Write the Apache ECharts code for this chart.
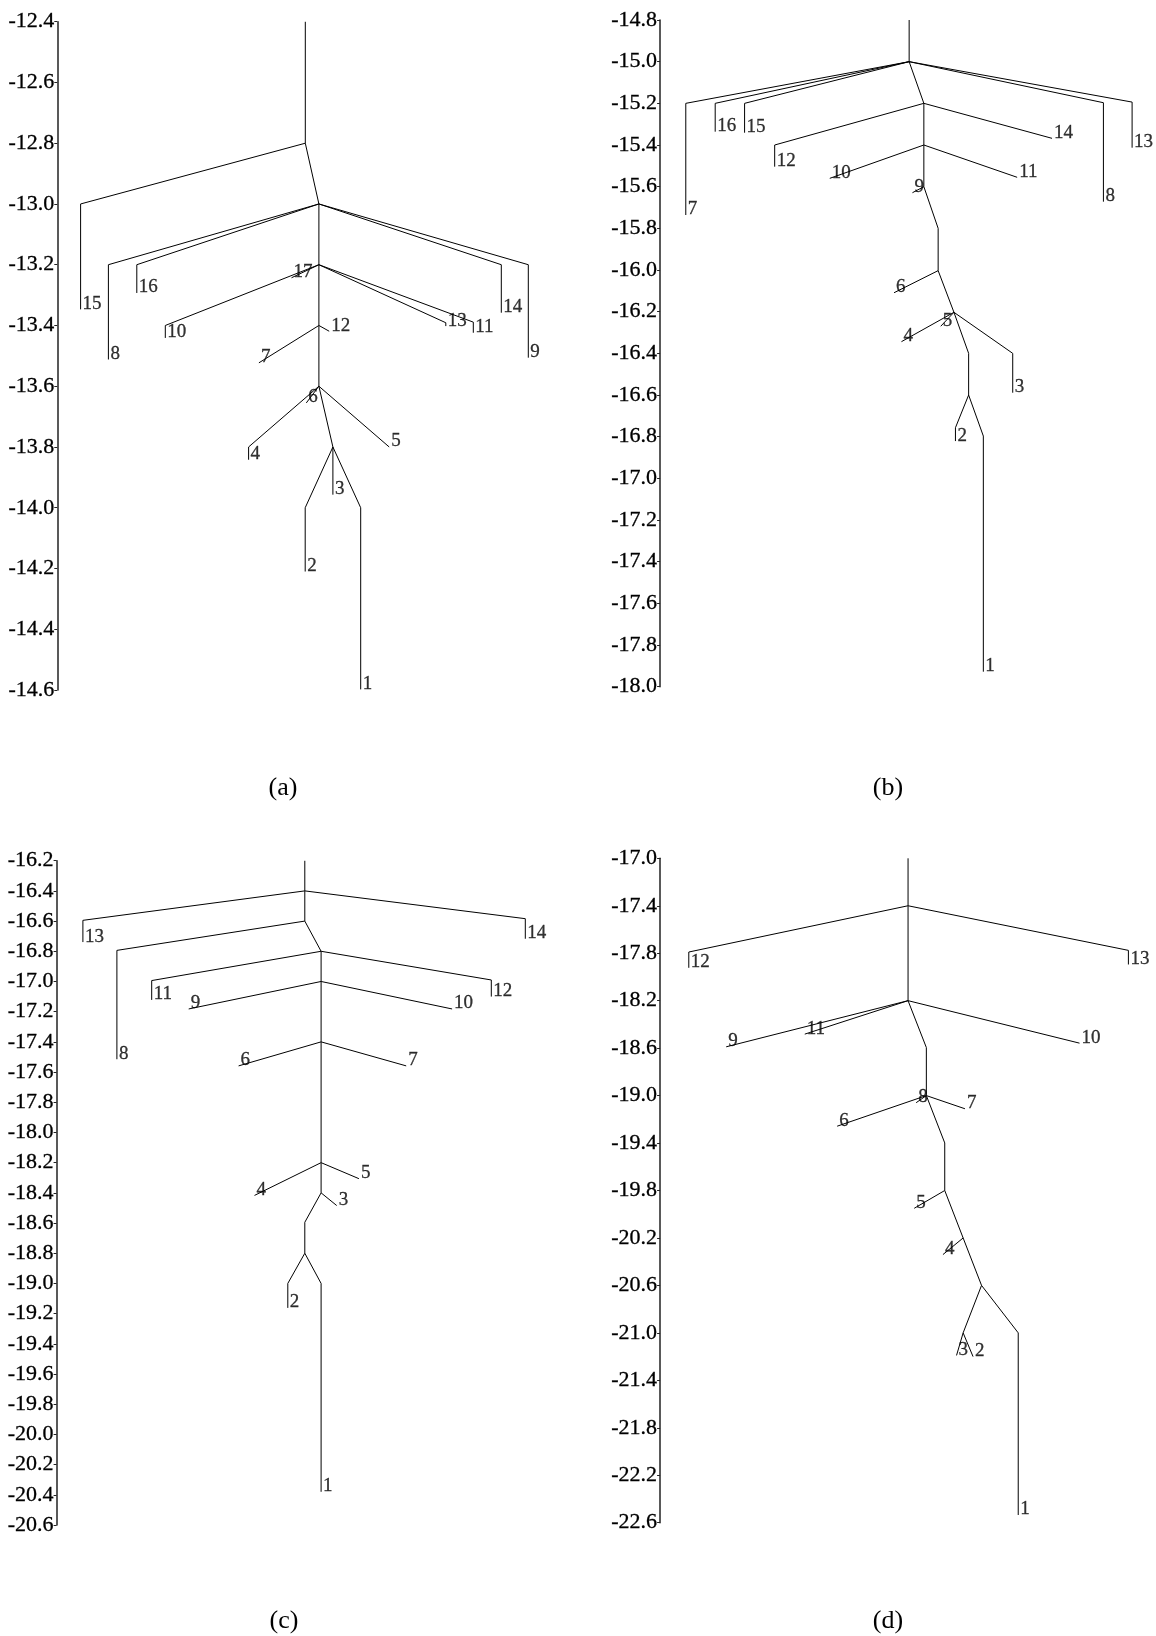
<!DOCTYPE html>
<html><head><meta charset="utf-8">
<script src="https://cdn.jsdelivr.net/npm/echarts@6/dist/echarts.min.js"></script>
<style>html,body{margin:0;padding:0;background:#fff}#chart{width:1156px;height:1636px}</style>
</head><body><div id="chart"></div>
<script>
// ---------- Panel (a) ----------
const aTicks  = [-12.4,-12.6,-12.8,-13.0,-13.2,-13.4,-13.6,-13.8,-14.0,-14.2,-14.4,-14.6];
const aLabel  = ['', '15','', '8','16','14','9','', '17','10','13','11','', '12','7','', '6','4','5','', '3','2','1'];
const aParent = [-1, 0, 0, 2, 2, 2, 2, 2, 7, 7, 7, 7, 7, 12, 12, 12, 15, 15, 15, 15, 19, 19, 19];
const aX      = [248, 23.3, 261.6, 51.1, 79.5, 444, 471, 261.6, 234.2, 108, 388.5, 416, 261.6, 271.9, 201.6, 261.6, 249, 191.3, 331.9, 275.6, 275.6, 247.9, 303.4];
const aTop    = [-12.4, -13.0, -13.0, -13.2, -13.2, -13.2, -13.2, -13.2, -13.243, -13.4, -13.391, -13.389, -13.4, -13.419, -13.523, -13.6, -13.655, -13.8, -13.8, -13.8, -13.8, -14.0, -14.0];
const aBottom = [-12.8, -13.347, -13.0, -13.512, -13.293, -13.358, -13.506, -13.2, -13.243, -13.441, -13.402, -13.424, -13.4, -13.419, -13.523, -13.6, -13.655, -13.842, -13.8, -13.8, -13.957, -14.21, -14.598];

// ---------- Panel (b) ----------
const bTicks  = [-14.8,-15.0,-15.2,-15.4,-15.6,-15.8,-16.0,-16.2,-16.4,-16.6,-16.8,-17.0,-17.2,-17.4,-17.6,-17.8,-18.0];
const bLabel  = ['', '7','16','15','8','13','', '12','14','', '10','11','', '9','', '6','', '4','5','', '3','2','1'];
const bParent = [-1, 0, 0, 0, 0, 0, 0, 6, 6, 6, 9, 9, 9, 12, 12, 14, 14, 16, 16, 16, 16, 19, 19];
const bX      = [249.1, 25.7, 55.1, 84.5, 443.4, 472.1, 263.8, 114.6, 392, 263.8, 169.7, 357.1, 263.8, 252.4, 278.1, 234, 293.9, 241.4, 280.7, 308.6, 352.7, 295.4, 323.3];
const bTop    = [-14.8, -15.2, -15.2, -15.2, -15.197, -15.194, -15.2, -15.4, -15.368, -15.4, -15.56, -15.555, -15.6, -15.629, -15.8, -16.109, -16.203, -16.344, -16.27, -16.4, -16.4, -16.757, -16.797];
const bBottom = [-15.0, -15.736, -15.336, -15.341, -15.672, -15.413, -15.2, -15.504, -15.368, -15.4, -15.56, -15.555, -15.6, -15.629, -16.003, -16.109, -16.203, -16.344, -16.27, -16.6, -16.589, -16.821, -17.928];

// ---------- Panel (c) ----------
const cTicks  = [-16.2,-16.4,-16.6,-16.8,-17.0,-17.2,-17.4,-17.6,-17.8,-18.0,-18.2,-18.4,-18.6,-18.8,-19.0,-19.2,-19.4,-19.6,-19.8,-20.0,-20.2,-20.4,-20.6];
const cLabel  = ['', '13','14','', '8','', '11','12','', '9','10','', '6','7','', '4','5','', '3','', '2','1'];
const cParent = [-1, 0, 0, 0, 3, 3, 5, 5, 5, 8, 8, 8, 11, 11, 11, 14, 14, 14, 17, 17, 19, 19];
const cX      = [248.2, 26.3, 468.7, 248.2, 60.3, 264.5, 95.1, 434.7, 264.5, 132.1, 395.5, 264.5, 182, 349.6, 264.5, 197.9, 302.3, 264.5, 280.1, 248.2, 231.2, 264.5];
const cTop    = [-16.2, -16.595, -16.584, -16.6, -16.794, -16.8, -16.994, -16.99, -17.0, -17.182, -17.182, -17.4, -17.559, -17.559, -18.2, -18.417, -18.306, -18.4, -18.484, -18.595, -19.0, -19.0];
const cBottom = [-16.4, -16.739, -16.717, -16.6, -17.515, -16.8, -17.122, -17.1, -17.0, -17.182, -17.182, -17.4, -17.559, -17.559, -18.2, -18.417, -18.306, -18.4, -18.484, -18.8, -19.162, -20.38];

// ---------- Panel (d) ----------
const dTicks  = [-17.0,-17.4,-17.8,-18.2,-18.6,-19.0,-19.4,-19.8,-20.2,-20.6,-21.0,-21.4,-21.8,-22.2,-22.6];
const dLabel  = ['', '12','13','', '9','11','10','', '8','6','7','', '5','', '4','', '', '3','2','1'];
const dParent = [-1, 0, 0, 0, 3, 3, 3, 3, 7, 7, 7, 7, 11, 11, 13, 13, 15, 16, 16, 15];
const dX      = [248, 28.7, 468.4, 248, 66.1, 144.7, 419.5, 266.3, 256.1, 177.1, 304.9, 284.7, 254.2, 303.1, 282.9, 321.5, 303.1, 296.5, 313, 358.2];
const dTop    = [-17.0, -17.79, -17.776, -18.2, -18.589, -18.482, -18.558, -18.595, -19.06, -19.258, -19.111, -19.399, -19.95, -20.2, -20.34, -20.6, -21.0, -21.19, -21.2, -21.0];
const dBottom = [-17.4, -17.923, -17.895, -18.2, -18.589, -18.482, -18.558, -19.0, -19.06, -19.258, -19.111, -19.8, -19.95, -20.2, -20.34, -20.6, -21.0, -21.19, -21.2, -22.535];

const captions = ['(a)', '(b)', '(c)', '(d)'];

const panels = [
  {ticks: aTicks, label: aLabel, parent: aParent, x: aX, top: aTop, bottom: aBottom, interval: 0.2},
  {ticks: bTicks, label: bLabel, parent: bParent, x: bX, top: bTop, bottom: bBottom, interval: 0.2},
  {ticks: cTicks, label: cLabel, parent: cParent, x: cX, top: cTop, bottom: cBottom, interval: 0.2},
  {ticks: dTicks, label: dLabel, parent: dParent, x: dX, top: dTop, bottom: dBottom, interval: 0.4}
];

// layout (pixels)
const gridBoxes = [
  {left: 57.3, top: 21.7, width: 500, height: 668.3},
  {left: 660.1, top: 20, width: 496, height: 666.7},
  {left: 56.6, top: 860.7, width: 500, height: 664.3},
  {left: 660.1, top: 858.3, width: 496, height: 664.4}
];
const captionPos = [[283, 788], [888, 788], [284, 1621], [888, 1621]];

const SERIF = '"Liberation Serif", "Times New Roman", "DejaVu Serif", serif';

function treeLines(p) {
  const out = [];
  for (let i = 0; i < p.parent.length; i++) {
    const coords = [];
    const par = p.parent[i];
    if (par >= 0) coords.push([p.x[par], p.bottom[par]]);
    coords.push([p.x[i], p.top[i]]);
    if (p.bottom[i] !== p.top[i]) coords.push([p.x[i], p.bottom[i]]);
    if (coords.length >= 2) out.push({coords});
  }
  return out;
}
function leafPoints(p) {
  const out = [];
  for (let i = 0; i < p.label.length; i++) {
    if (p.label[i] !== '') out.push([p.x[i], p.bottom[i], p.label[i]]);
  }
  return out;
}

const grid = [], xAxis = [], yAxis = [], series = [];
panels.forEach((p, k) => {
  const g = gridBoxes[k];
  grid.push({left: g.left, top: g.top, width: g.width, height: g.height, containLabel: false});
  xAxis.push({gridIndex: k, type: 'value', min: 0, max: g.width, show: false});
  const tmin = Math.min.apply(null, p.ticks), tmax = Math.max.apply(null, p.ticks);
  yAxis.push({
    gridIndex: k, type: 'value', min: tmin, max: tmax, interval: p.interval,
    axisLine: {show: true, onZero: false, lineStyle: {color: '#222', width: 1.5}},
    axisTick: {show: true, length: 3, customValues: p.ticks, lineStyle: {color: '#222'}},
    axisLabel: {show: true, customValues: p.ticks, margin: 3, color: '#000',
      fontFamily: SERIF, fontSize: 22, textBorderColor: '#000', textBorderWidth: 0.3,
      formatter: v => Number(v).toFixed(1)},
    splitLine: {show: false}
  });
  series.push({
    type: 'lines', coordinateSystem: 'cartesian2d', xAxisIndex: k, yAxisIndex: k,
    polyline: true, silent: true, animation: false,
    lineStyle: {color: '#000', width: 1, opacity: 1},
    data: treeLines(p)
  });
  series.push({
    type: 'scatter', xAxisIndex: k, yAxisIndex: k, symbolSize: 0, silent: true, animation: false,
    clip: false,
    data: leafPoints(p),
    label: {show: true, position: [2, 4], align: 'left', verticalAlign: 'bottom',
      formatter: q => q.data[2], color: '#000', fontFamily: SERIF, fontSize: 19,
      textBorderColor: '#000', textBorderWidth: 0.3}
  });
});

const graphic = captions.map((t, k) => ({
  type: 'text', x: captionPos[k][0], y: captionPos[k][1],
  style: {text: t, fill: '#000', font: '26px ' + SERIF, textAlign: 'center', textVerticalAlign: 'middle'}
}));

const chart = echarts.init(document.getElementById('chart'), null, {renderer: 'canvas'});
chart.setOption({backgroundColor: '#fff', animation: false, grid, xAxis, yAxis, series, graphic});
</script>
</body></html>
